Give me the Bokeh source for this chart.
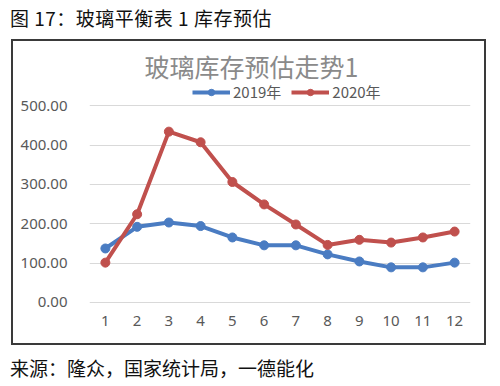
from bokeh.plotting import figure
from bokeh.models import (Range1d, FixedTicker, Legend, LegendItem, Label, Div)
from bokeh.layouts import column
from bokeh.embed import file_html
from bokeh.resources import INLINE

# ---- data ----
months = [1, 2, 3, 4, 5, 6, 7, 8, 9, 10, 11, 12]
inv_2019 = [137, 192, 203, 194, 165, 145, 145, 122, 104, 89, 89, 101]
inv_2020 = [101, 224, 434, 407, 306, 249, 198, 146, 159, 152, 165, 180]
series_names = ["2019年", "2020年"]
y_ticks = [0, 100, 200, 300, 400, 500]
y_tick_labels = ["0.00", "100.00", "200.00", "300.00", "400.00", "500.00"]
chart_title = "玻璃库存预估走势1"
header_text = "图 17：玻璃平衡表 1 库存预估"
footer_text = "来源：隆众，国家统计局，一德能化"

BLUE = "#4a7cc2"
RED = "#c0504d"
CJK = "Noto Sans CJK SC"

p = figure(width=475, height=306, output_backend="svg", toolbar_location=None,
           x_range=Range1d(0.5, 12.5), y_range=Range1d(-10.5, 642.8),
           min_border_left=76, min_border_right=18, min_border_top=8,
           min_border_bottom=41, outline_line_color=None,
           margin=(3, 0, 0, 11),
           styles={"border": "2px solid #3a3a3a", "box-sizing": "border-box"})

p.xaxis.ticker = FixedTicker(ticks=months)
p.yaxis.ticker = FixedTicker(ticks=y_ticks)
p.yaxis.major_label_overrides = {t: l for t, l in zip(y_ticks, y_tick_labels)}
for ax in (p.xaxis, p.yaxis):
    ax.axis_line_color = None
    ax.major_tick_line_color = None
    ax.minor_tick_line_color = None
    ax.major_label_text_font = "Noto Sans"
    ax.major_label_text_font_size = "15px"
    ax.major_label_text_color = "#595959"
p.yaxis.major_label_standoff = 16
p.xaxis.major_label_standoff = 3
p.xgrid.grid_line_color = None
p.ygrid.grid_line_color = "#d9d9d9"
p.ygrid.grid_line_width = 1

l1 = p.line(months, inv_2019, line_color=BLUE, line_width=4)
s1 = p.scatter(months, inv_2019, size=9, fill_color=BLUE, line_color=BLUE)
l2 = p.line(months, inv_2020, line_color=RED, line_width=4)
s2 = p.scatter(months, inv_2020, size=9, fill_color=RED, line_color=RED)

legend = Legend(items=[LegendItem(label=series_names[0], renderers=[l1, s1]),
                       LegendItem(label=series_names[1], renderers=[l2, s2])],
                orientation="horizontal", location=(103, 204),
                glyph_width=38, glyph_height=16, label_height=16,
                label_standoff=3, spacing=10, padding=0, margin=0,
                label_text_font=CJK, label_text_font_size="15px",
                label_text_color="#595959",
                border_line_color=None, background_fill_alpha=0)
p.add_layout(legend, "center")

title = Label(x=162, y=241, x_units="screen", y_units="screen",
              text=chart_title, text_align="center", text_baseline="middle",
              text_font=CJK, text_font_size="25px", text_color="#8a8a8a")
p.add_layout(title)

header = Div(text=header_text, width=474, height=28, margin=(8, 0, 0, 10),
             styles={"font-family": CJK, "font-size": "19px",
                     "line-height": "19px", "color": "#111",
                     "letter-spacing": "0.5px", "white-space": "nowrap"})
footer = Div(text=footer_text, width=474, height=21, margin=(12, 0, 0, 10),
             styles={"font-family": CJK, "font-size": "19px",
                     "line-height": "21px", "color": "#111",
                     "white-space": "nowrap"})

layout = column(header, p, footer, spacing=0)
open("out.html", "w").write(file_html(layout, INLINE))
